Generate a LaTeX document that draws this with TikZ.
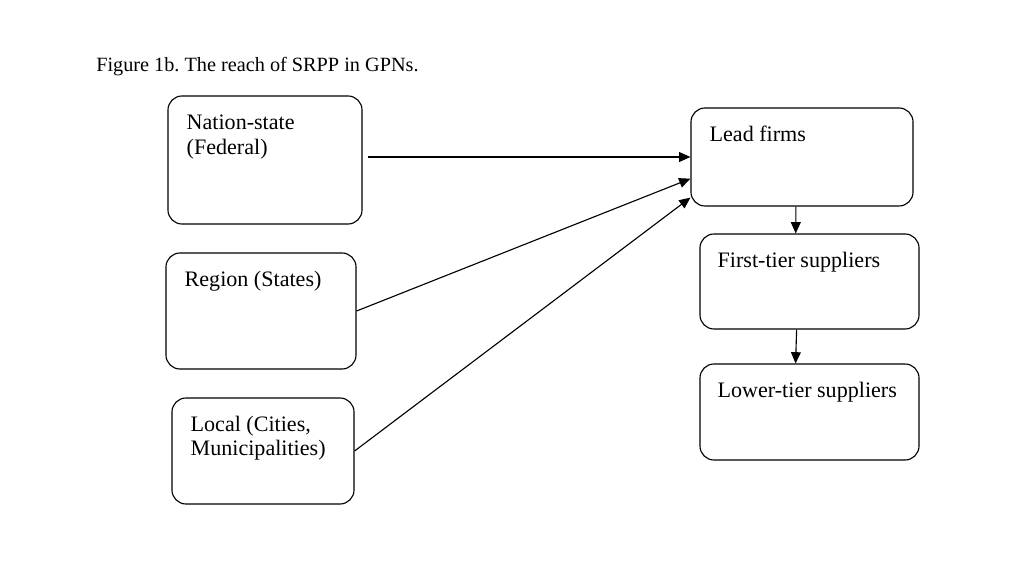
\documentclass[tikz,border=0pt]{standalone}
\usepackage{fontspec}
\setmainfont{Liberation Serif}
\frenchspacing
\usetikzlibrary{arrows.meta}
\begin{document}
\begin{tikzpicture}[x=0.025cm, y=-0.025cm,
    box/.style={draw, rounded corners=10pt, line width=0.8pt, inner sep=0pt},
    txt/.style={anchor=north west, inner sep=0pt, align=left,
      font=\fontsize{15.7}{17.7}\selectfont},
    arr/.style={-{Triangle[length=8pt,width=7pt]}, line width=0.8pt}]
    \useasboundingbox (0,0) rectangle (1024,576);
    \node[anchor=base west, inner sep=0pt, font=\fontsize{14.4}{17}\selectfont]
      (title) at (96,72) {Figure 1b. The reach of SRPP in GPNs.};
    % levels of the state
    \node[box, minimum width=4.85cm, minimum height=3.2cm] (nation) at (265,160) {};
    \node[box, minimum width=4.75cm, minimum height=2.9cm] (region) at (261,311) {};
    \node[box, minimum width=4.55cm, minimum height=2.65cm] (local) at (263,451) {};
    % the chain
    \node[box, minimum width=5.55cm, minimum height=2.45cm] (lead) at (802,157) {};
    \node[box, minimum width=5.475cm, minimum height=2.375cm] (first) at (809.5,281.5) {};
    \node[box, minimum width=5.475cm, minimum height=2.4cm] (lower) at (809.5,412) {};
    \node[txt] (nationtxt) at ([shift={(19,19)}]nation.north west) {Nation-state\\(Federal)};
    \node[txt] (regiontxt) at ([shift={(19,18)}]region.north west) {Region (States)};
    \node[txt] (localtxt) at ([shift={(19,18)}]local.north west) {Local (Cities,\\Municipalities)};
    \node[txt] (leadtxt) at ([shift={(19,18)}]lead.north west) {Lead firms};
    \node[txt] (firsttxt) at ([shift={(18,18)}]first.north west) {First-tier suppliers};
    \node[txt] (lowertxt) at ([shift={(18,18)}]lower.north west) {Lower-tier suppliers};
    \draw[arr, shorten <=4pt] (nation.east |- lead.west) -- (lead.west);
    \draw[arr] (region.east) -- (lead.191);
    \draw[arr] (local.east) -- (lead.200);
    \draw[arr] (lead.263) -- (first.106);
    \draw[arr] (first.255) -- (lower.106);
  \end{tikzpicture}
\end{document}
